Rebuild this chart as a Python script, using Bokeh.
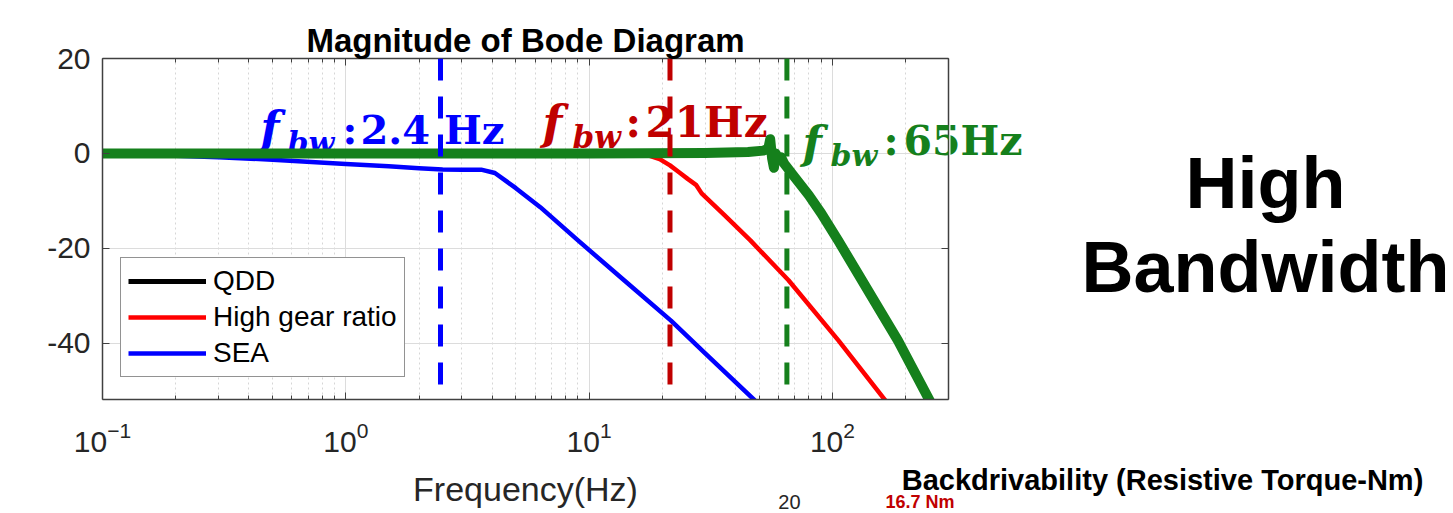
import math
from bokeh.plotting import figure
from bokeh.layouts import row, column
from bokeh.models import (Range1d, FixedTicker, LogAxis, LinearAxis, Span, Label,
                          Legend, LegendItem)
from bokeh.embed import file_html
from bokeh.resources import INLINE

# ---------------- data ----------------
qdd_freq = [0.1, 1, 10, 30, 45, 52, 54.5, 55.5, 56.5, 57.5, 58.5, 60, 61.5, 63.3, 70, 80, 90,
            105.5, 125, 150, 186, 215, 252]
qdd_db = [0, 0, 0, 0.1, 0.3, 0.6, 1.0, 3.0, -1.0, -3.0, 0.0, -1.5, -0.8, -2.1, -5.0, -8.8,
          -12.6, -18.3, -24.6, -31.4, -39.4, -45.5, -52.2]

high_gear_freq = [0.1, 1, 10, 15, 17.5, 19.5, 21.5, 23.5, 25.5, 27.5, 29, 36, 46, 66, 106, 165]
high_gear_db = [0, 0, 0, -0.1, -0.4, -1.2, -2.5, -4.0, -5.4, -6.6, -8.4, -13.0, -18.3,
                -26.7, -39.4, -52.0]

sea_freq = [0.1, 0.2, 0.3, 0.5, 1, 1.5, 2, 2.5, 3, 3.6, 4.1, 5, 6.3, 9, 14, 21.7, 30, 48]
sea_db = [-0.2, -0.5, -0.8, -1.3, -2.2, -2.7, -3.1, -3.35, -3.4, -3.4, -4.1, -7.3, -11.3,
          -18.3, -26.8, -35.2, -42.1, -52.0]

bw_freq = [2.45, 21.5, 65]
bw_value_text = ["2.4 Hz", "21Hz", "65Hz"]

legend_labels = ["QDD", "High gear ratio", "SEA"]
x_ticks = [0.1, 1, 10, 100]
y_ticks = [-40, -20, 0, 20]
y_tick_text = ["-40", "-20", "0", "20"]

title_text = "Magnitude of Bode Diagram"
x_label_text = "Frequency(Hz)"
side_text = ["High", "Bandwidth"]
next_title_text = "Backdrivability (Resistive Torque-Nm)"
next_tick_text = "20"
next_note_text = "16.7 Nm"

# ---------------- layout / styles ----------------
PAGE_W, PAGE_H = 1453, 513
FRAME_L, FRAME_T, FRAME_W, FRAME_H = 102, 58, 846, 341
BODE_W, TOP_H = 950, 462
FRAME_B = FRAME_T + FRAME_H
K_BASE = 0.35   # label anchor sits this fraction of the font size above the baseline

BLUE = "#0000FF"
RED_LINE = "#FF0000"
RED_DARK = "#C00000"
GREEN = "#15801C"
AXIS = "#404040"
TXT = "#262626"
SERIF = "DejaVu Serif"

x_lo, x_hi = 0.1, 300
y_lo, y_hi = -51.8, 20

def bode_px(f, db):
    """page pixel position of a Bode data point (same mapping as the Bode frame)"""
    sx = FRAME_L + (math.log10(f) - math.log10(x_lo)) / (math.log10(x_hi) - math.log10(x_lo)) * FRAME_W
    sy = FRAME_T + (y_hi - db) / (y_hi - y_lo) * FRAME_H
    return sx, sy

# ================= Bode figure =================
p = figure(width=BODE_W, height=TOP_H, x_axis_type="log",
           x_range=Range1d(x_lo, x_hi), y_range=Range1d(y_lo, y_hi),
           output_backend="svg", toolbar_location=None,
           min_border_left=FRAME_L, min_border_right=BODE_W - FRAME_L - FRAME_W,
           min_border_top=FRAME_T, min_border_bottom=TOP_H - FRAME_B)
p.outline_line_color = None
p.background_fill_color = "white"
p.border_fill_color = "white"

p.title.text = title_text
p.title.align = "center"
p.title.text_font = "Liberation Sans"
p.title.text_font_size = "33px"
p.title.text_font_style = "bold"
p.title.text_color = "black"
p.title.standoff = 0

minor_x = [k * 10 ** e for e in range(-1, 3) for k in range(2, 10) if k * 10 ** e <= x_hi]
xt = FixedTicker(ticks=x_ticks, minor_ticks=minor_x)
yt = FixedTicker(ticks=y_ticks, minor_ticks=[])

def style_axis(ax, show_labels):
    is_log = isinstance(ax, LogAxis)
    ax.ticker = xt if is_log else yt
    ax.axis_line_color = AXIS
    ax.axis_line_width = 1.5
    ax.major_tick_line_color = AXIS
    ax.minor_tick_line_color = AXIS
    ax.major_tick_in = 7
    ax.major_tick_out = 0
    ax.minor_tick_in = 4 if is_log else 0
    ax.minor_tick_out = 0
    if not show_labels:
        ax.major_label_overrides = {t: "" for t in (x_ticks if is_log else y_ticks)}
        ax.major_label_text_font_size = "0px"
        ax.major_label_standoff = 0

xb = p.xaxis[0]
style_axis(xb, True)
xb.major_label_text_font = "Liberation Sans"
xb.major_label_text_font_size = "30px"
xb.major_label_text_color = TXT
xb.major_label_standoff = 22

yl = p.yaxis[0]
style_axis(yl, True)
yl.major_label_overrides = dict(zip(y_ticks, y_tick_text))
yl.major_label_text_font = "Liberation Sans"
yl.major_label_text_font_size = "30px"
yl.major_label_text_color = TXT
yl.major_label_standoff = 12

xa = LogAxis()
style_axis(xa, False)
p.add_layout(xa, "above")
yr = LinearAxis()
style_axis(yr, False)
p.add_layout(yr, "right")

p.xgrid.ticker = xt
p.ygrid.ticker = yt
p.xgrid.grid_line_color = "#dcdcdc"
p.xgrid.minor_grid_line_color = "#d6d6d6"
p.xgrid.minor_grid_line_dash = "2 3"
p.ygrid.grid_line_color = "#dcdcdc"

def add_label(fig, text, x, y, xo, yo, size, color, font="Liberation Sans", style="normal",
              align="left", level="annotation"):
    fig.add_layout(Label(x=x, y=y, x_offset=xo, y_offset=yo, text=text, text_font=font,
                         text_font_size=f"{size}px", text_font_style=style, text_color=color,
                         text_align=align, text_baseline="alphabetic", level=level))

def add_bw_label(fig_is_bode, fig, f, left, base, text, size, color, style, level="annotation"):
    """left / base: page pixel left edge and baseline of the text"""
    ax, ay = bode_px(f, 0)
    if fig_is_bode:
        add_label(fig, text, f, 0, left - ax, ay - (base - K_BASE * size), size, color,
                  SERIF, style, level=level)
    else:
        add_label(fig, text, left, base - K_BASE * size, 0, 0, size, color, SERIF, style)

# bandwidth annotations: (text, left px, baseline px, size, style)
blue_parts = [("f", 260, 142, 44, "bold italic"), ("bw", 287, 152, 30, "bold italic"),
              (":", 342, 143, 40, "bold"), (bw_value_text[0], 360, 143, 40, "bold")]
red_parts = [("f", 542, 139, 46, "bold italic"), ("bw", 572, 147, 31, "bold italic"),
             (":", 625, 137, 42, "bold"), (bw_value_text[1], 645, 137, 42, "bold")]
green_parts = [("f", 802, 158, 45, "bold italic"), ("bw", 830, 165, 30, "bold italic"),
               (":", 883, 155, 41, "bold"), (bw_value_text[2], 903, 155, 41, "bold")]

for t, l, b, s, st in blue_parts:
    add_bw_label(True, p, bw_freq[0], l, b, t, s, BLUE, st, level="underlay")
for t, l, b, s, st in red_parts:
    add_bw_label(True, p, bw_freq[1], l, b, t, s, RED_DARK, st, level="underlay")

# curves
r_hg = p.line(high_gear_freq, high_gear_db, line_color=RED_LINE, line_width=4.5,
              line_join="round")
r_sea = p.line(sea_freq, sea_db, line_color=BLUE, line_width=4.5, line_join="round")
r_qdd = p.line(qdd_freq, qdd_db, line_color="black", line_width=5, line_join="round")
p.line(qdd_freq, qdd_db, line_color=GREEN, line_width=10, line_join="round", line_cap="round")

for f, c in zip(bw_freq, [BLUE, RED_DARK, GREEN]):
    p.add_layout(Span(location=f, dimension="height", line_color=c, line_width=5,
                      line_dash="22 16"))

for t, l, b, s, st in green_parts:
    add_bw_label(True, p, bw_freq[2], l, b, t, s, GREEN, st)

legend = Legend(items=[LegendItem(label=legend_labels[0], renderers=[r_qdd]),
                       LegendItem(label=legend_labels[1], renderers=[r_hg]),
                       LegendItem(label=legend_labels[2], renderers=[r_sea])],
                location=(18, 22), margin=0, padding=7, spacing=4,
                glyph_width=78, glyph_height=32, label_height=32, label_standoff=7,
                label_text_font="Liberation Sans", label_text_font_size="28px",
                label_text_color="black", border_line_color="#262626", border_line_width=1,
                background_fill_color="white", background_fill_alpha=1)
p.add_layout(legend)

# ================= right-hand slide area (page pixel coordinates) =================
def blank_fig(w, h, xr, yr, top=0, bottom=0):
    f = figure(width=w, height=h, x_range=xr, y_range=yr, output_backend="svg",
               toolbar_location=None, x_axis_location=None, y_axis_location=None,
               min_border=0, min_border_top=top, min_border_bottom=bottom)
    f.outline_line_color = None
    f.background_fill_color = "white"
    f.border_fill_color = "white"
    f.xgrid.visible = False
    f.ygrid.visible = False
    return f

# frame of this panel is aligned with the Bode frame (rows align plot frames)
ps = blank_fig(PAGE_W - BODE_W, TOP_H, Range1d(BODE_W, PAGE_W), Range1d(FRAME_B, FRAME_T),
               top=FRAME_T, bottom=TOP_H - FRAME_B)
for t, l, b, s, st in green_parts:
    add_bw_label(False, ps, bw_freq[2], l, b, t, s, GREEN, st)
add_label(ps, side_text[0], 1265, 208 - K_BASE * 72, 0, 0, 72, "black", style="bold",
          align="center")
add_label(ps, side_text[1], 1265, 292 - K_BASE * 72, 0, 0, 72, "black", style="bold",
          align="center")

# ================= bottom strip =================
pb = blank_fig(PAGE_W, PAGE_H - TOP_H, Range1d(0, PAGE_W), Range1d(PAGE_H, TOP_H))
add_label(pb, x_label_text, FRAME_L + FRAME_W / 2, 500 - K_BASE * 34, 0, 0, 34, TXT,
          align="center")
add_label(pb, next_title_text, 1162, 490 - K_BASE * 29, 0, 0, 29, "black", style="bold",
          align="center")
add_label(pb, next_tick_text, 800, 508 - K_BASE * 20, 0, 0, 20, TXT, align="right")
add_label(pb, next_note_text, 885, 508 - K_BASE * 18, 0, 0, 18, RED_DARK, style="bold")

page = column(row(p, ps), pb)
open("out.html", "w").write(file_html(page, INLINE))
